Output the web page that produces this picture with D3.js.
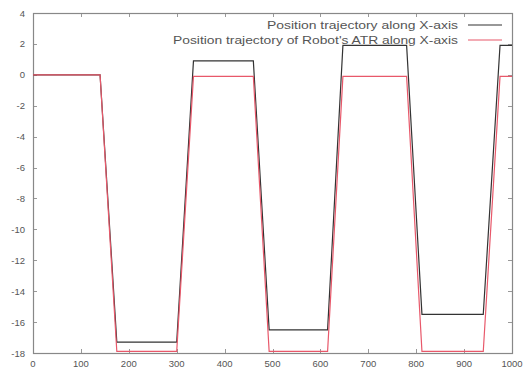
<!DOCTYPE html>
<html><head><meta charset="utf-8">
<script src="https://cdn.jsdelivr.net/npm/d3@7"></script>
<style>body{margin:0;background:#fff}svg{display:block}</style>
</head><body>
<svg id="c" width="529" height="370"></svg>
<script>
const xTicks = [0,100,200,300,400,500,600,700,800,900,1000];
const yTicks = [4,2,0,-2,-4,-6,-8,-10,-12,-14,-16,-18];
const seriesNames = ["Position trajectory along X-axis","Position trajectory of Robot's ATR along X-axis"];
const timeX = [0,140,175,300,335,460,493,615,647,780,812,940,975,1000];
const posBlack = [0,0,-17.3,-17.3,0.9,0.9,-16.5,-16.5,1.9,1.9,-15.5,-15.5,1.9,1.9];
const posRed = [0,0,-17.9,-17.9,-0.1,-0.1,-17.9,-17.9,-0.1,-0.1,-17.9,-17.9,-0.1,-0.1];
const colors = ["#333","#e8586a"];

const svg = d3.select("#c");
const L=33,R=512,T=13,B=353;
const x = d3.scaleLinear().domain([0,1000]).range([L,R]);
const y = d3.scaleLinear().domain([-18,4]).range([B,T]);
const font = "Liberation Sans, Arial, sans-serif";

// ticks (inner, mirrored)
const g = svg.append("g").attr("stroke","#999").attr("stroke-width",1);
xTicks.forEach(v=>{
  const px=Math.round(x(v))+0.5;
  g.append("line").attr("x1",px).attr("x2",px).attr("y1",B).attr("y2",B-4);
  g.append("line").attr("x1",px).attr("x2",px).attr("y1",T).attr("y2",T+4);
});
yTicks.forEach(v=>{
  const py=Math.round(y(v))+0.5;
  g.append("line").attr("x1",L).attr("x2",L+4).attr("y1",py).attr("y2",py);
  g.append("line").attr("x1",R).attr("x2",R-4).attr("y1",py).attr("y2",py);
});
svg.append("rect").attr("x",L+0.5).attr("y",T+0.5).attr("width",R-L).attr("height",B-T)
  .attr("fill","none").attr("stroke","#888").attr("stroke-width",1.2);

svg.append("g").selectAll("text").data(yTicks).join("text")
  .attr("x",L-8).attr("y",d=>y(d)+3.5).attr("text-anchor","end")
  .attr("font-family",font).attr("font-size",9.5).attr("fill","#555").text(d=>d);
svg.append("g").selectAll("text").data(xTicks).join("text")
  .attr("x",d=>x(d)).attr("y",B+14).attr("text-anchor","middle")
  .attr("font-family",font).attr("font-size",9.5).attr("fill","#555").text(d=>d);

const line = d3.line().x(d=>x(d[0])).y(d=>y(d[1]));
[posBlack,posRed].forEach((s,i)=>{
  svg.append("path").datum(timeX.map((t,j)=>[t,s[j]]))
    .attr("d",line).attr("fill","none").attr("stroke",colors[i]).attr("stroke-width",1.2);
});

// legend
const legendLen = [191,285];
seriesNames.forEach((n,i)=>{
  const ly = 25 + i*15;
  svg.append("text").attr("x",458).attr("y",ly+4).attr("text-anchor","end")
    .attr("font-family",font).attr("font-size",11).attr("fill","#555")
    .attr("textLength",legendLen[i]).attr("lengthAdjust","spacingAndGlyphs").text(n);
  svg.append("line").attr("x1",468).attr("x2",502).attr("y1",ly).attr("y2",ly)
    .attr("stroke",colors[i]).attr("stroke-width",1.2);
});
</script>
</body></html>
